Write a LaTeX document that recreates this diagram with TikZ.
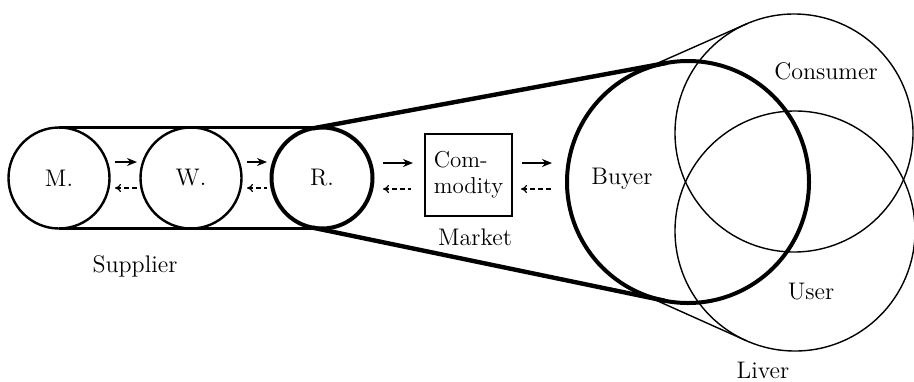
\documentclass[tikz,border=0pt]{standalone}
\usetikzlibrary{arrows.meta}
\begin{document}
\begin{tikzpicture}[x=0.5pt,y=-0.5pt,
  lbl/.style={font=\fontsize{12}{14}\selectfont, inner sep=0pt},
  small/.style={circle, draw, line width=1.2pt, minimum size=50.5pt, inner sep=0pt, outer sep=0pt, font=\fontsize{12}{14}\selectfont},
  big/.style={circle, draw, inner sep=0pt, outer sep=0pt},
  fwd/.style={-{Stealth[length=5pt,width=4pt]}, line width=1.1pt},
  back/.style={{To[length=3pt,width=4pt]}-, line width=0.6pt, dash pattern=on 2.5pt off 1.5pt}]
\useasboundingbox (0,0) rectangle (914,381);
% supplier circles
\node[small] (M) at (59,178) {M.};
\node[small] (W) at (191,178) {W.};
\node[small, line width=2pt] (R) at (322,178) {R.};
\draw[line width=1.2pt] (M.north) -- (R.north);
\draw[line width=1.2pt] (M.south) -- (R.south);
% right circles
\node[big, line width=0.7pt, minimum size=119pt] (C) at (794,133) {};
\node[big, line width=0.7pt, minimum size=120pt] (U) at (795,231) {};
\node[big, line width=2pt, minimum size=121pt] (B) at (688,182) {};
% tangents
\draw[line width=2.2pt] (R.100.6) -- (B.100.6);
\draw[line width=2.2pt] (R.-101.8) -- (B.-101.8);
\draw[line width=0.7pt] (B.113.8) -- (C.113.8);
\draw[line width=0.7pt] (B.-114.1) -- (U.-114.1);
% market box
\node[draw, line width=0.8pt, minimum width=43.5pt, minimum height=41pt, inner sep=0pt, align=left, font=\fontsize{11.5}{13}\selectfont] (K) at (468.5,175) {Com-\\modity};
% arrows
\coordinate (a1) at (115,162); \coordinate (a2) at (137,162);
\coordinate (b1) at (115,188); \coordinate (b2) at (137,188);
\coordinate (c1) at (247,162); \coordinate (c2) at (267,162);
\coordinate (d1) at (247,188); \coordinate (d2) at (267,188);
\coordinate (e1) at (383,163); \coordinate (e2) at (413,163);
\coordinate (f1) at (383,189); \coordinate (f2) at (411,189);
\coordinate (g1) at (522,163); \coordinate (g2) at (552,163);
\coordinate (h1) at (521,189); \coordinate (h2) at (551,189);
\draw[fwd] (a1) -- (a2); \draw[back] (b1) -- (b2);
\draw[fwd] (c1) -- (c2); \draw[back] (d1) -- (d2);
\draw[fwd] (e1) -- (e2); \draw[back] (f1) -- (f2);
\draw[fwd] (g1) -- (g2); \draw[back] (h1) -- (h2);
% labels
\node[lbl] (sup) at (135,266) {Supplier};
\node[lbl] (mkt) at (475,237) {Market};
\node[lbl] (buy) at (622,179) {Buyer};
\node[lbl] (con) at (826,71) {Consumer};
\node[lbl] (usr) at (811,292) {User};
\node[lbl] (liv) at (763,370) {Liver};
\end{tikzpicture}
\end{document}
